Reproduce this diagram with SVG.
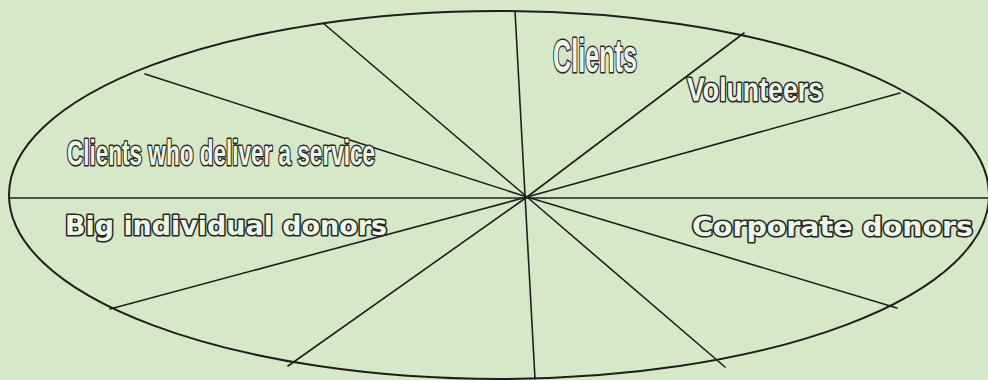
<svg xmlns="http://www.w3.org/2000/svg" width="988" height="380" viewBox="0 0 988 380">
<style>
.bg{fill:#d5e9c9}
.spoke{stroke:#1e1e1e;stroke-width:1.6;fill:none;stroke-linecap:round}
.rim{stroke:#1e1e1e;stroke-width:2;fill:none}
.lbl{fill:#eef7e6;stroke:#262626;stroke-width:3.2;paint-order:stroke;font-weight:bold;stroke-linejoin:round}
.narrow{font-family:"Liberation Sans",Arial,sans-serif}
.wide{font-family:"DejaVu Sans",Verdana,sans-serif}
</style>
<rect class="bg" x="0" y="0" width="988" height="380"/>
<g id="connectors">
<ellipse class="rim" cx="499" cy="195" rx="490" ry="184"/>
<line class="spoke" x1="9" y1="198" x2="988" y2="198"/>
<line class="spoke" x1="515" y1="11" x2="535" y2="379"/>
<line class="spoke" x1="527" y1="197" x2="323" y2="23"/>
<line class="spoke" x1="527" y1="197" x2="145" y2="74"/>
<line class="spoke" x1="527" y1="197" x2="110" y2="309"/>
<line class="spoke" x1="527" y1="197" x2="288" y2="366"/>
<line class="spoke" x1="527" y1="197" x2="725" y2="367"/>
<line class="spoke" x1="527" y1="197" x2="897" y2="308"/>
<line class="spoke" x1="527" y1="197" x2="900" y2="93"/>
<line class="spoke" x1="527" y1="197" x2="744" y2="33"/>
</g>
<g id="clients"><text class="lbl narrow" x="553" y="72" font-size="47" textLength="84" lengthAdjust="spacingAndGlyphs">Clients</text></g>
<g id="volunteers"><text class="lbl narrow" x="687" y="101" font-size="33" textLength="136" lengthAdjust="spacingAndGlyphs">Volunteers</text></g>
<g id="clients-service"><text class="lbl narrow" x="67" y="165" font-size="35" textLength="308" lengthAdjust="spacingAndGlyphs">Clients who deliver a service</text></g>
<g id="big-donors"><text class="lbl wide" x="65" y="235" font-size="27" textLength="322" lengthAdjust="spacingAndGlyphs">Big individual donors</text></g>
<g id="corporate-donors"><text class="lbl wide" x="692" y="236" font-size="27" textLength="281" lengthAdjust="spacingAndGlyphs">Corporate donors</text></g>
</svg>
